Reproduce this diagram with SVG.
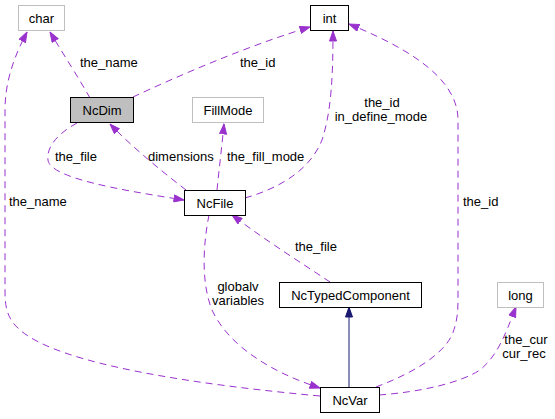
<svg xmlns="http://www.w3.org/2000/svg" width="555" height="419" viewBox="0 0 555 419">
<style>
text{font-family:"Liberation Sans",Arial,sans-serif;font-size:13px;fill:#000}
.n{fill:#fff;stroke:#000;stroke-width:1}
.g{fill:#fff;stroke:#bfbfbf;stroke-width:1}
.c{fill:#bfbfbf;stroke:#000;stroke-width:1}
.e{fill:none;stroke:#9a32cd;stroke-width:1;stroke-dasharray:7,5;marker-end:url(#ap)}
.i{fill:none;stroke:#191970;stroke-width:1;marker-end:url(#ab)}
.m{text-anchor:middle}
</style>
<defs>
<marker id="ap" viewBox="0 0 11 8" refX="10.5" refY="4" markerWidth="11" markerHeight="8" markerUnits="userSpaceOnUse" orient="auto">
<path d="M0.5,0.5 L10.5,4 L0.5,7.5 z" fill="#9a32cd" stroke="#9a32cd"/>
</marker>
<marker id="ab" viewBox="0 0 11 8" refX="10.5" refY="4" markerWidth="11" markerHeight="8" markerUnits="userSpaceOnUse" orient="auto">
<path d="M0.5,0.5 L10.5,4 L0.5,7.5 z" fill="#191970" stroke="#191970"/>
</marker>
</defs>
<rect width="555" height="419" fill="#fff"/>
<g id="connectors">
<path class="e" d="M90,98 C80,80 65,57 50,32"/>
<path class="e" d="M133,97 C180,75 250,45 310,27"/>
<path class="e" d="M77,123 C60,132 46,146 48,160 C50,178 120,190 184,200"/>
<path class="e" d="M186,190 C160,170 130,145 110,124"/>
<path class="e" d="M217,190 C219,170 222,145 224,124"/>
<path class="e" d="M245,198 C280,188 310,170 322,140 C332,110 333,70 333,31"/>
<path class="e" d="M330,282 C300,262 265,240 232,215"/>
<path class="e" d="M209,215 C204,240 200,280 212,310 C228,345 270,372 320,388"/>
<path class="e" d="M320,396 C200,385 60,365 20,330 C6,318 5,305 5,290 L5,110 C5,80 15,55 27,32"/>
<path class="e" d="M376,387 C400,378 440,360 452,335 C458,320 458,310 458,295 L458,120 C458,75 400,45 349,24"/>
<path class="e" d="M379,395 C420,392 460,383 480,370 C498,355 505,335 516,307"/>
<path class="i" d="M349,387 L349,307"/>
<text x="80" y="67">the_name</text>
<text x="240" y="67">the_id</text>
<text x="55" y="161">the_file</text>
<text x="148" y="161">dimensions</text>
<text x="227" y="161">the_fill_mode</text>
<text class="m" x="382" y="107">the_id</text>
<text class="m" x="381" y="121">in_define_mode</text>
<text x="9" y="206">the_name</text>
<text x="463" y="206">the_id</text>
<text x="295" y="251">the_file</text>
<text class="m" x="238" y="291">globalv</text>
<text class="m" x="238" y="305">variables</text>
<text class="m" x="526" y="344">the_cur</text>
<text class="m" x="524" y="358">cur_rec</text>
</g>
<g id="char"><rect class="g" x="18.5" y="5.5" width="46" height="25"/><text class="m" x="41.5" y="22.5">char</text></g>
<g id="int"><rect class="n" x="310.5" y="5.5" width="38" height="25"/><text class="m" x="329.5" y="22.5">int</text></g>
<g id="NcDim"><rect class="c" x="70.5" y="97.5" width="63" height="25"/><text class="m" x="102" y="114.5">NcDim</text></g>
<g id="FillMode"><rect class="g" x="192.5" y="97.5" width="71" height="25"/><text class="m" x="228" y="114.5">FillMode</text></g>
<g id="NcFile"><rect class="n" x="184.5" y="190.5" width="61" height="25"/><text class="m" x="215" y="207.5">NcFile</text></g>
<g id="NcTypedComponent"><rect class="n" x="279.5" y="282.5" width="142" height="25"/><text class="m" x="350.5" y="299.5">NcTypedComponent</text></g>
<g id="long"><rect class="g" x="497.5" y="282.5" width="46" height="25"/><text class="m" x="520.5" y="299.5">long</text></g>
<g id="NcVar"><rect class="n" x="320.5" y="387.5" width="59" height="25"/><text class="m" x="350" y="404.5">NcVar</text></g>
</svg>
